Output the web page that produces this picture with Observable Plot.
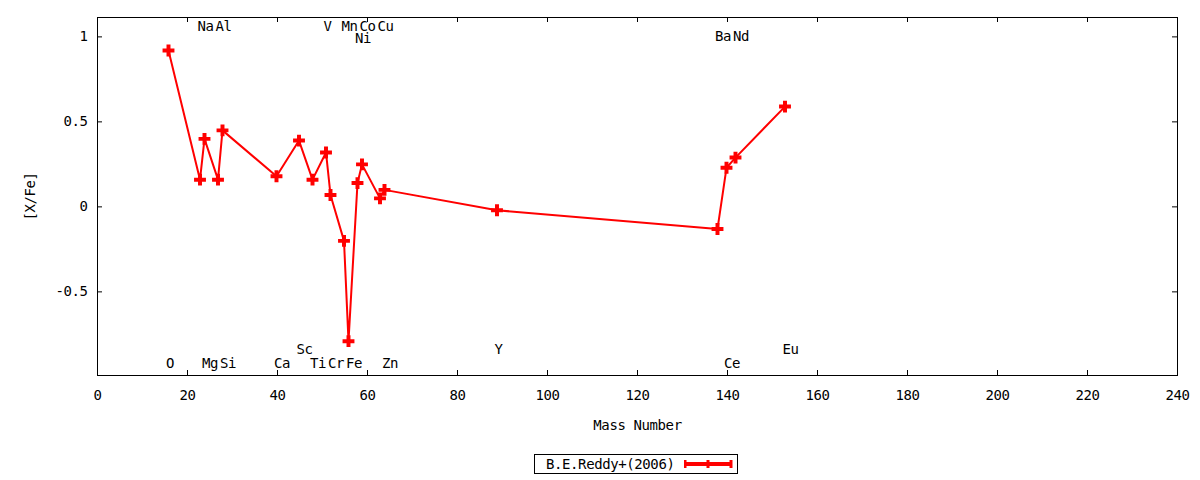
<!DOCTYPE html>
<html>
<head>
<meta charset="utf-8">
<script src="https://cdn.jsdelivr.net/npm/d3@7"></script>
<script src="https://cdn.jsdelivr.net/npm/@observablehq/plot@0.6"></script>
<style>
  body { margin: 0; background: #fff; font-family: "DejaVu Sans Mono", monospace; }
  #wrap { position: relative; width: 1200px; height: 480px; }
  #legend { position: absolute; left: 534px; top: 454px; width: 202px; height: 18px;
            border: 1px solid #000; font-size: 14px; letter-spacing: -0.4px; color: #000; }
  #legend .txt { position: absolute; left: 11px; top: 0px; line-height: 18px; white-space: nowrap; }
  #legend svg { position: absolute; left: 149px; top: 0px; }
</style>
</head>
<body>
<div id="wrap">
  <div id="chart"></div>
  <div id="legend">
    <span class="txt" id="legendText"></span>
    <svg width="50" height="18" id="legendSample"></svg>
  </div>
</div>
<script>
// Elements, their mass numbers and [X/Fe] values
const elements   = ["O","Na","Mg","Al","Si","Ca","Sc","Ti","V","Cr","Mn","Fe","Ni","Co","Cu","Zn","Y","Ba","Ce","Nd","Eu"];
const massNumber = [16, 23, 24, 27, 28, 40, 45, 48, 51, 52, 55, 56, 58, 59, 63, 64, 89, 138, 140, 142, 153];
const xFe        = [0.92, 0.16, 0.40, 0.16, 0.45, 0.18, 0.39, 0.16, 0.32, 0.07, -0.20, -0.79, 0.14, 0.25, 0.05, 0.10, -0.02, -0.13, 0.23, 0.29, 0.59];
// Vertical level at which each element's name is written
const labelLevel = [-0.92, 1.06, -0.92, 1.06, -0.92, -0.92, -0.84, -0.92, 1.06, -0.92, 1.06, -0.92, 0.99, 1.06, 1.06, -0.92, -0.84, 1.0, -0.92, 1.0, -0.84];

const seriesName = "B.E.Reddy+(2006)";
const xTicks = [0, 20, 40, 60, 80, 100, 120, 140, 160, 180, 200, 220, 240];
const yTicks = [-0.5, 0, 0.5, 1];
const xDomain = [0, 240];
const yDomain = [-0.992, 1.114];

const data = elements.map((e, i) => ({el: e, mass: massNumber[i], v: xFe[i], ly: labelLevel[i]}));

const W = 1200, H = 440, mT = 17, mB = 65, mL = 97, mR = 23;
const innerH = H - mT - mB, innerW = W - mL - mR;
const tick = 5;

const chart = Plot.plot({
  width: W, height: H,
  marginTop: mT, marginBottom: mB, marginLeft: mL, marginRight: mR,
  style: {fontFamily: "DejaVu Sans Mono", fontSize: "14px", color: "#000", background: "#fff", letterSpacing: "-0.4px"},
  x: {domain: xDomain},
  y: {domain: yDomain},
  marks: [
    Plot.frame({stroke: "#000", strokeWidth: 1}),
    Plot.tickX(xTicks, {x: d => d, insetTop: innerH - tick, stroke: "#000"}),
    Plot.tickX(xTicks, {x: d => d, insetBottom: innerH - tick, stroke: "#000"}),
    Plot.tickY(yTicks, {y: d => d, insetRight: innerW - tick, stroke: "#000"}),
    Plot.tickY(yTicks, {y: d => d, insetLeft: innerW - tick, stroke: "#000"}),
    Plot.axisX(xTicks, {tickSize: 0, tickPadding: 15, tickFormat: d => String(d),
      label: "Mass Number", labelAnchor: "center", labelOffset: 54, labelArrow: "none"}),
    Plot.axisY(yTicks, {tickSize: 0, tickPadding: 10, tickFormat: d => String(d),
      label: "[X/Fe]", labelAnchor: "center", labelOffset: 72, labelArrow: "none"}),
    Plot.line(data, {x: "mass", y: "v", stroke: "#ff0000", strokeWidth: 2, dx: -1}),
    Plot.dot(data, {x: "mass", y: "v", symbol: "cross", r: 5, fill: "#ff0000", stroke: null, dx: -1}),
    Plot.text(data, {x: "mass", y: "ly", text: "el", textAnchor: "start", dx: -3.5, fill: "#000"})
  ]
});
document.getElementById("chart").appendChild(chart);

document.getElementById("legendText").textContent = seriesName;
const s = d3.select("#legendSample");
s.append("line").attr("x1", 1).attr("x2", 47).attr("y1", 9).attr("y2", 9).attr("stroke", "#ff0000").attr("stroke-width", 4);
[1, 24, 47].forEach(px => {
  s.append("line").attr("x1", px).attr("x2", px).attr("y1", 5).attr("y2", 13).attr("stroke", "#ff0000").attr("stroke-width", 3);
});
</script>
</body>
</html>
